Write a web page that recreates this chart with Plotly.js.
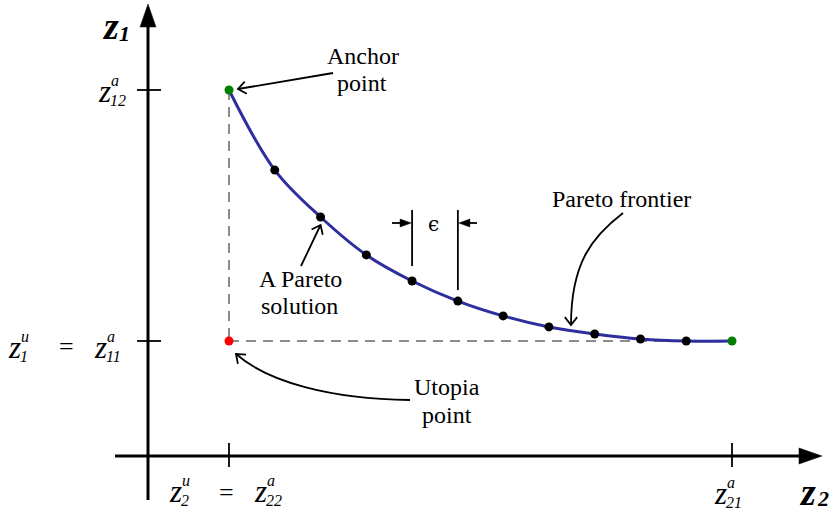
<!DOCTYPE html>
<html>
<head>
<meta charset="utf-8">
<script src="https://cdn.plot.ly/plotly-3.0.1.min.js"></script>
<style>html,body{margin:0;padding:0;background:#fff}</style>
</head>
<body>
<div id="chart" style="width:836px;height:513px"></div>
<script>
// Objective values of the computed Pareto solutions, normalised so the
// utopia point is (0, 0) and both anchor points lie at 1 on their own axis.
const z2Values = [0.000, 0.091, 0.182, 0.273, 0.364, 0.455, 0.545, 0.636, 0.727, 0.818, 0.909, 1.000];
const z1Values = [1.000, 0.681, 0.494, 0.343, 0.239, 0.159, 0.100, 0.056, 0.028, 0.008, 0.000, 0.000];
const utopiaZ2 = 0.0;
const utopiaZ1 = 0.0;

// Tick positions and their labels (base symbol, superscript, subscript)
const z1TickValues = [1.0, 0.0];
const z1TickLabels = [['z', 'a', '12'], ['z', 'a', '11']];
const z2TickValues = [0.0, 1.0];
const z2TickLabels = [['z', 'a', '22'], ['z', 'a', '21']];

// Screen layout: pixel position of the utopia point and pixels per unit
const W = 836, H = 513;
const ORIGIN = [229, 341];
const SCALE = [503, 251];
const X = px => (px - ORIGIN[0]) / SCALE[0];
const Y = py => (ORIGIN[1] - py) / SCALE[1];
const PX = x => ORIGIN[0] + x * SCALE[0];
const PY = y => ORIGIN[1] - y * SCALE[1];

const SERIF = '"Liberation Serif"';
const BLACK = '#000000';
const LABEL_SIZE = 24;

const shapes = [];
const annotations = [];

function line(x0, y0, x1, y1, width, extra) {
  shapes.push(Object.assign({
    type: 'line', xref: 'x', yref: 'y', x0: X(x0), y0: Y(y0), x1: X(x1), y1: Y(y1),
    line: {color: BLACK, width: width}, layer: 'above'
  }, extra || {}));
}
function pathPx(points, closed, style) {
  let d = points.map((p, i) => (i ? 'L' : 'M') + X(p[0]) + ',' + Y(p[1])).join(' ');
  if (closed) d += ' Z';
  shapes.push(Object.assign({type: 'path', xref: 'x', yref: 'y', path: d, layer: 'above'}, style));
}
// filled triangular head: tip, unit direction of travel, length, half-width
function solidHead(tip, dir, len, hw) {
  const bx = tip[0] - dir[0] * len, by = tip[1] - dir[1] * len;
  const nx = -dir[1], ny = dir[0];
  pathPx([tip, [bx + nx * hw, by + ny * hw], [bx - nx * hw, by - ny * hw]], true,
         {fillcolor: BLACK, line: {color: BLACK, width: 0.5}});
}
// open chevron head
function openHead(tip, dir, len, ang) {
  const a = ang * Math.PI / 180;
  const rot = (v, t) => [v[0] * Math.cos(t) - v[1] * Math.sin(t), v[0] * Math.sin(t) + v[1] * Math.cos(t)];
  const back = [-dir[0], -dir[1]];
  const r1 = rot(back, a), r2 = rot(back, -a);
  pathPx([[tip[0] + r1[0] * len, tip[1] + r1[1] * len], tip,
          [tip[0] + r2[0] * len, tip[1] + r2[1] * len]], false,
         {line: {color: BLACK, width: 1.8}});
}
function unit(from, to) {
  const dx = to[0] - from[0], dy = to[1] - from[1], n = Math.hypot(dx, dy);
  return [dx / n, dy / n];
}
function curve(p0, c1, c2, p3) {
  const d = 'M' + X(p0[0]) + ',' + Y(p0[1]) + ' C' + X(c1[0]) + ',' + Y(c1[1]) + ' ' +
            X(c2[0]) + ',' + Y(c2[1]) + ' ' + X(p3[0]) + ',' + Y(p3[1]);
  shapes.push({type: 'path', xref: 'x', yref: 'y', path: d, layer: 'above',
               line: {color: BLACK, width: 1.8}});
  openHead(p3, unit(c2, p3), 10, 38);
}
function text(px, py, str, size, opts) {
  annotations.push(Object.assign({
    xref: 'x', yref: 'y', x: X(px), y: Y(py), text: str, showarrow: false,
    xanchor: 'center', yanchor: 'middle', borderpad: 0,
    font: {family: SERIF, size: size, color: BLACK}
  }, opts || {}));
}
// italic symbol with stacked superscript and subscript, centred on (px, py)
function mathLabel(px, py, parts) {
  text(px, py, '<i>' + parts[0] + '</i>', 31);
  text(px + 6, py - 11, '<i>' + parts[1] + '</i>', 16, {xanchor: 'left'});
  text(px + 5, py + 9, '<i>' + parts[2] + '</i>', 16, {xanchor: 'left'});
}

// ---- axes with arrowheads ----
const axisX = 148, axisY = 456;
line(axisX, 500, axisX, 24, 3);
solidHead([axisX, 4], [0, -1], 23, 8);
line(115, axisY, 801, axisY, 3);
solidHead([822, axisY], [1, 0], 23, 8);

// ---- ticks and tick labels ----
z1TickValues.forEach(v => line(137, PY(v), 161, PY(v), 1.8));
z2TickValues.forEach(v => line(PX(v), 443, PX(v), 467, 1.8));

mathLabel(104, PY(z1TickValues[0]) + 1, z1TickLabels[0]);
mathLabel(100, PY(z1TickValues[1]) + 6, z1TickLabels[1]);
mathLabel(14, PY(utopiaZ1) + 6, ['z', 'u', '1']);
text(66, PY(utopiaZ1) + 5, '=', 26);

mathLabel(260, axisY + 35, z2TickLabels[0]);
mathLabel(175, axisY + 35, ['z', 'u', '2']);
text(226, axisY + 36, '=', 26);
mathLabel(PX(z2TickValues[1]) - 12, axisY + 37, z2TickLabels[1]);

// axis titles
text(110, 26, '<b><i>z</i></b>', 38);
text(118, 33, '<b><i>1</i></b>', 22, {xanchor: 'left'});
text(807, 492, '<b><i>z</i></b>', 38);
text(816, 498, '<b><i>2</i></b>', 22, {xanchor: 'left'});

// ---- construction lines from the anchors to the utopia point ----
const dash = {color: '#8c8c8c', width: 2, dash: '10px,7px'};
shapes.push({type: 'line', xref: 'x', yref: 'y', layer: 'below',
  x0: z2Values[0], y0: z1Values[0], x1: utopiaZ2, y1: utopiaZ1, line: dash});
shapes.push({type: 'line', xref: 'x', yref: 'y', layer: 'below',
  x0: utopiaZ2, y0: utopiaZ1, x1: z2Values[z2Values.length - 1], y1: z1Values[z1Values.length - 1], line: dash});

// ---- epsilon spacing between two neighbouring solutions ----
const eA = 4, eB = 5;
line(PX(z2Values[eA]), 210, PX(z2Values[eA]), PY(z1Values[eA]) - 15, 1.8);
line(PX(z2Values[eB]), 210, PX(z2Values[eB]), PY(z1Values[eB]) - 11, 1.8);
line(392, 223, PX(z2Values[eA]) - 8, 223, 1.8);
solidHead([PX(z2Values[eA]) - 1, 223], [1, 0], 11, 4);
line(477, 223, PX(z2Values[eB]) + 8, 223, 1.8);
solidHead([PX(z2Values[eB]) + 1, 223], [-1, 0], 11, 4);
text(433, 224, '\u03F5', 20, {font: {family: '"DejaVu Serif"', size: 20, color: BLACK}});

// ---- callouts ----
text(363, 56, 'Anchor', LABEL_SIZE);
text(362, 83, 'point', LABEL_SIZE);
const anchorTip = [PX(z2Values[0]) + 9, PY(z1Values[0]) - 1];
line(333, 73, anchorTip[0], anchorTip[1], 1.8);
openHead(anchorTip, unit([333, 73], anchorTip), 10, 38);

text(300, 279, 'A Pareto', LABEL_SIZE);
text(299, 306, 'solution', LABEL_SIZE);
const solTip = [PX(z2Values[2]), PY(z1Values[2]) + 8];
line(301, 266, solTip[0], solTip[1], 1.8);
openHead(solTip, unit([301, 266], solTip), 10, 38);

text(621, 199, 'Pareto frontier', LABEL_SIZE);
curve([623, 213], [593, 236], [571, 262], [571, 325]);

text(447, 387, 'Utopia', LABEL_SIZE);
text(447, 415, 'point', LABEL_SIZE);
curve([410, 400], [330, 399], [268, 382], [236, 354]);

// ---- data traces ----
const last = z2Values.length - 1;
const traces = [
  {x: z2Values, y: z1Values, mode: 'lines', type: 'scatter',
   line: {color: '#2e2e9e', width: 3, shape: 'spline', smoothing: 1}, hoverinfo: 'skip'},
  {x: z2Values.slice(1, last), y: z1Values.slice(1, last), mode: 'markers', type: 'scatter',
   marker: {color: BLACK, size: 9}},
  {x: [z2Values[0], z2Values[last]], y: [z1Values[0], z1Values[last]], mode: 'markers', type: 'scatter',
   marker: {color: '#008000', size: 9}},
  {x: [utopiaZ2], y: [utopiaZ1], mode: 'markers', type: 'scatter',
   marker: {color: '#ff0000', size: 9}}
];

const layout = {
  width: W, height: H,
  margin: {l: 0, r: 0, t: 0, b: 0, pad: 0},
  paper_bgcolor: '#ffffff', plot_bgcolor: '#ffffff',
  showlegend: false,
  font: {family: SERIF},
  xaxis: {range: [X(0), X(W)], visible: false, fixedrange: true},
  yaxis: {range: [Y(H), Y(0)], visible: false, fixedrange: true},
  shapes: shapes,
  annotations: annotations
};

Plotly.newPlot('chart', traces, layout, {displayModeBar: false, staticPlot: true});
</script>
</body>
</html>
